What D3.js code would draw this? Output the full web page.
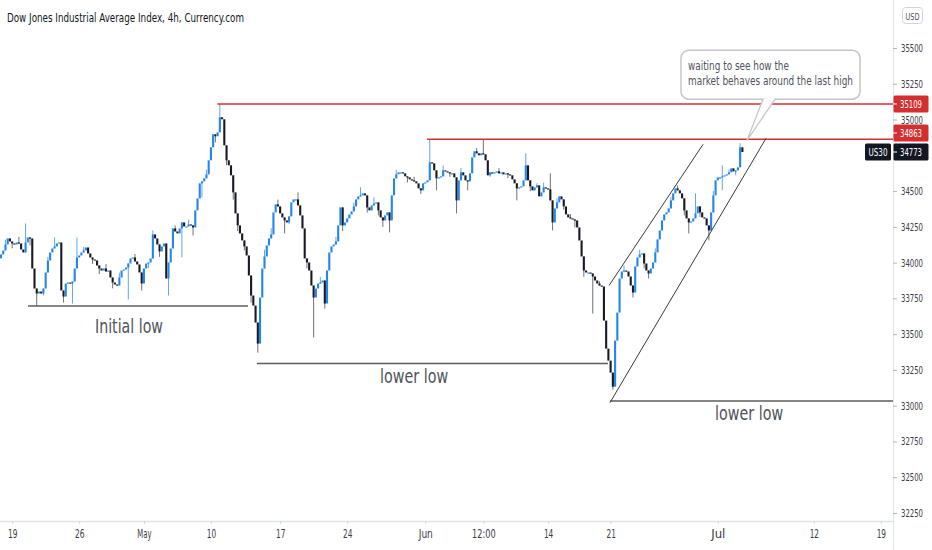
<!DOCTYPE html>
<html><head><meta charset="utf-8">
<script src="https://cdn.jsdelivr.net/npm/d3@7"></script>
<style>
html,body{margin:0;padding:0;background:#fff;}
svg{display:block;}
text{font-family:"Liberation Sans Narrow","DejaVu Sans Condensed","Roboto Condensed","Liberation Sans",sans-serif;}
</style></head><body>
<svg id="chart" width="932" height="550"></svg>
<script>
// ---------------- data ----------------
const title = "Dow Jones Industrial Average Index, 4h, Currency.com";
const symbol = "US30";
const currency = "USD";
const open0 = 34030;
const closes = [
34057,34085,34127,34169,34148,34134,34127,34141,34134,34092,
34071,34141,34176,34169,33959,33819,33784,33798,33784,33819,
33931,34015,34071,34099,34113,34134,34141,33805,33763,33854,
33861,33854,33868,33959,34036,34050,34071,34085,34106,34064,
34036,34022,34015,33980,33959,33945,33959,33938,33945,33896,
33861,33847,33840,33896,33945,33952,33966,33994,34029,34036,
34008,33987,33931,33854,33959,33994,34001,34029,34197,34169,
34127,34078,34113,34134,33889,34001,34099,34239,34218,34204,
34239,34281,34253,34253,34267,34260,34246,34365,34449,34554,
34568,34589,34617,34715,34806,34897,34883,34911,35016,35002,
34820,34715,34680,34610,34491,34344,34260,34204,34155,34113,
34050,33910,33770,33700,33581,33434,33756,33959,34043,34120,
34169,34197,34351,34407,34393,34344,34316,34295,34281,34323,
34421,34442,34442,34400,34330,34239,34029,34001,33945,33840,
33756,33819,33854,33861,33875,33714,33945,34071,34113,34127,
34148,34260,34386,34260,34281,34309,34337,34358,34393,34442,
34463,34470,34484,34470,34386,34365,34400,34414,34421,34365,
34316,34295,34330,34351,34295,34470,34589,34617,34631,34631,
34624,34603,34596,34582,34575,34568,34554,34519,34505,34554,
34561,34575,34701,34694,34645,34589,34596,34603,34645,34638,
34631,34624,34624,34596,34435,34575,34631,34610,34575,34568,
34624,34736,34778,34764,34750,34764,34757,34715,34610,34631,
34624,34631,34638,34624,34631,34617,34624,34617,34610,34582,
34554,34519,34526,34533,34575,34680,34575,34533,34505,34526,
34540,34463,34491,34526,34519,34512,34435,34281,34379,34421,
34463,34442,34393,34337,34316,34309,34302,34295,34246,34155,
34043,33945,33931,33931,33924,33903,33875,33854,33840,33833,
33595,33399,33315,33231,33133,33455,33651,33889,33938,33945,
33938,33903,33840,33791,33973,34036,34057,34064,33994,33945,
33924,33959,34001,34071,34162,34225,34295,34337,34351,34379,
34435,34484,34519,34505,34484,34449,34365,34309,34281,34288,
34309,34344,34393,34351,34316,34309,34260,34225,34351,34470,
34575,34596,34596,34603,34610,34617,34631,34659,34638,34645,
34666,34806,34773
];
// wicks: [candle, high, low]
const wicks = [
[2,34160,null],[5,null,34100],[8,34180,null],[11,34274,null],[13,null,34120],
[16,null,33697],[19,null,33770],[21,34040,null],[24,34176,null],[28,null,33721],
[32,null,33714],[34,34176,null],[37,34110,null],[41,null,33990],[44,null,33920],
[47,33990,null],[50,null,33820],[53,33930,null],[57,null,33742],[60,34060,null],
[63,null,33805],[66,null,33960],[68,34225,null],[71,null,34040],[75,null,33770],
[78,34260,null],[81,null,34036],[84,34300,null],[86,null,34190],[88,null,34400],
[90,null,34456],[92,34650,null],[96,null,34840],[98,35109,null],[101,null,34680],
[104,null,34440],[106,null,34220],[109,null,34085],[112,null,33720],[115,null,33371],
[118,34090,null],[121,34240,null],[124,34440,null],[127,null,34204],[129,null,34270],
[133,34491,null],[137,null,33960],[140,null,33476],[143,33900,null],[145,null,33679],
[150,34180,null],[153,null,34220],[158,34420,null],[161,34526,null],[164,null,34350],
[167,34456,null],[169,null,34330],[171,null,34250],[174,null,34211],[177,34650,null],
[182,null,34560],[185,34600,null],[188,null,34480],[192,34863,null],[195,null,34505],
[198,34680,null],[201,null,34600],[204,null,34344],[206,34660,null],[209,null,34505],
[213,34800,null],[216,34860,null],[219,null,34600],[223,34660,null],[227,null,34590],
[231,null,34435],[235,34764,null],[237,null,34500],[240,34554,null],[243,34560,null],
[246,34624,null],[247,null,34225],[249,34450,null],[252,null,34370],[255,34340,null],
[257,null,34246],[261,null,33900],[265,null,33644],[268,33870,null],[274,null,33112],
[276,null,33620],[279,33980,null],[283,null,33756],[286,34090,null],[288,null,33960],
[290,null,33889],[293,34100,null],[296,null,34260],[300,34460,null],[303,34540,null],
[306,null,34330],[308,null,34204],[311,34484,null],[313,null,34320],[317,null,34155],
[319,34500,null],[323,34680,34505],[326,34650,null],[329,null,34610],[331,34834,null]
];
const timeTicks = [[5,"19"],[35,"26"],[64,"May"],[94,"10"],[125,"17"],[155,"24"],[190,"Jun"],[216,"12:00"],[245,"14"],[273,"21"],[321,"Jul"],[364,"12"],[394,"19"]];
const priceTicks = [32250,32500,32750,33000,33250,33500,33750,34000,34250,34500,34750,35000,35250,35500];
const redLevels = [[96.9,35109],[190.8,34863]];
const lowLevels = [[12.1,110.6,33697],[114.6,271.8,33295],[272.7,null,33033]];
const channel = [[[272.3,33840],[314.4,34827]],[[272.7,33021],[342.6,34869]]];
const lowLabels = [[57.3,33511,"Initial low"],[185,33161,"lower low"],[335,32902,"lower low"]];
const note = ["waiting to see how the","market behaves around the last high"];
const noteTip = [334.1,34855];
const noteBox = [[304.5,35485],[384.7,35142]];
const lastPrice = 34773;

// ---------------- chart ----------------
const W = 932, H = 550, plotR = 893, plotB = 521;
const AXFONT = '"Liberation Sans Narrow","DejaVu Sans Condensed","Liberation Sans",sans-serif';
const svg = d3.select("#chart");
const xs = d3.scaleLinear().domain([-0.45, 399.45]).range([0, plotR]);
const ys = d3.scaleLinear().domain([32250, 35500]).range([513, 48]);

svg.append("rect").attr("width",W).attr("height",H).attr("fill","#fff");
svg.append("defs").append("clipPath").attr("id","plot")
  .append("rect").attr("x",0).attr("y",0).attr("width",plotR).attr("height",plotB);
const plot = svg.append("g").attr("clip-path","url(#plot)");

// candles
const wmap = new Map(wicks.map(w => [w[0], w]));
const candles = closes.map((c, i) => {
  const o = i === 0 ? open0 : closes[i-1];
  const w = wmap.get(i);
  const top = Math.max(o,c), bot = Math.min(o,c);
  const h = w && w[1] != null ? Math.max(w[1], top) : top;
  const l = w && w[2] != null ? Math.min(w[2], bot) : bot;
  return {i, o, c, h, l};
});
const UP = "#2286ee", DN = "#161a25";
const cg = plot.append("g");
cg.selectAll("line.wick").data(candles.filter(d => d.h > Math.max(d.o,d.c) || d.l < Math.min(d.o,d.c)))
  .join("line").attr("class","wick")
  .attr("x1", d => xs(d.i)).attr("x2", d => xs(d.i))
  .attr("y1", d => ys(d.h)).attr("y2", d => ys(d.l))
  .attr("stroke", d => d.c >= d.o ? "#5fa6ee" : "#6f727a").attr("stroke-width", 1);
cg.selectAll("rect.body").data(candles).join("rect").attr("class","body")
  .attr("x", d => xs(d.i) - 1.05).attr("width", 2.1)
  .attr("y", d => ys(Math.max(d.o,d.c)))
  .attr("height", d => Math.max(1.2, ys(Math.min(d.o,d.c)) - ys(Math.max(d.o,d.c))))
  .attr("fill", d => d.c >= d.o ? UP : DN);

// horizontal levels
const RED = "#d32f2f";
plot.selectAll("line.red").data(redLevels).join("line").attr("class","red")
  .attr("x1", d => xs(d[0])).attr("x2", plotR)
  .attr("y1", d => ys(d[1])).attr("y2", d => ys(d[1]))
  .attr("stroke", RED).attr("stroke-width", 1.5);
plot.selectAll("line.low").data(lowLevels).join("line").attr("class","low")
  .attr("x1", d => xs(d[0])).attr("x2", d => d[1] == null ? plotR : xs(d[1]))
  .attr("y1", d => ys(d[2])).attr("y2", d => ys(d[2]))
  .attr("stroke", "#5d5d5d").attr("stroke-width", 1.5);
plot.selectAll("line.chan").data(channel).join("line").attr("class","chan")
  .attr("x1", d => xs(d[0][0])).attr("y1", d => ys(d[0][1]))
  .attr("x2", d => xs(d[1][0])).attr("y2", d => ys(d[1][1]))
  .attr("stroke", "#3a3a3a").attr("stroke-width", 1);

plot.selectAll("text.lowlbl").data(lowLabels).join("text").attr("class","lowlbl")
  .attr("x", d => xs(d[0])).attr("y", d => ys(d[1]))
  .attr("text-anchor","middle").attr("font-size", 20).attr("fill","#50535a")
  .attr("textLength", 68).attr("lengthAdjust","spacingAndGlyphs")
  .text(d => d[2]);

// callout
const bx0 = xs(noteBox[0][0]), by0 = ys(noteBox[0][1]), bx1 = xs(noteBox[1][0]), by1 = ys(noteBox[1][1]);
const tx = xs(noteTip[0]), ty = ys(noteTip[1]);
const cal = svg.append("g");
cal.append("path").attr("d", `M${bx0+82},${by1} L${tx},${ty} L${bx0+94},${by1} Z`)
  .attr("fill","#fff").attr("stroke","#c4c6cc").attr("stroke-width",1.3);
cal.append("rect").attr("x",bx0).attr("y",by0).attr("width",bx1-bx0).attr("height",by1-by0)
  .attr("rx",8).attr("fill","#fff").attr("stroke","#c4c6cc").attr("stroke-width",1.5);
cal.append("line").attr("x1",bx0+82.8).attr("x2",bx0+93.2).attr("y1",by1).attr("y2",by1)
  .attr("stroke","#fff").attr("stroke-width",2);
cal.selectAll("text").data(note).join("text")
  .attr("x", bx0+7).attr("y", (d,i) => by0 + 20 + i*14.5)
  .attr("font-size", 12.5).attr("fill","#50535e")
  .attr("textLength", (d,i) => i === 0 ? 101 : 165).attr("lengthAdjust","spacingAndGlyphs")
  .text(d => d);

// axes frame
svg.append("line").attr("x1",plotR+0.5).attr("x2",plotR+0.5).attr("y1",0).attr("y2",H)
  .attr("stroke","#e0e3eb").attr("stroke-width",1);
svg.append("line").attr("x1",0).attr("x2",plotR).attr("y1",plotB+0.5).attr("y2",plotB+0.5)
  .attr("stroke","#e0e3eb").attr("stroke-width",1.5);

// price labels (with simple collision handling), computed first so hidden ticks can be skipped
const boxes = [
  {v: lastPrice, fill: "#131722"},
  {v: redLevels[1][1], fill: RED},
  {v: redLevels[0][1], fill: RED}
];
let prevY = null;
boxes.forEach(b => {
  let y = ys(b.v);
  if (prevY !== null && prevY - y < 19) y = prevY - 19;
  b.y = y; prevY = y;
});
const visibleTicks = priceTicks.filter(v => boxes.every(b => Math.abs(ys(v) - b.y) > 12));

// price axis
const yAxis = svg.append("g").attr("transform",`translate(${plotR},0)`)
  .call(d3.axisRight(ys).tickValues(visibleTicks).tickSize(4).tickPadding(4).tickFormat(d3.format("d")));
yAxis.select(".domain").remove();
yAxis.selectAll(".tick line").attr("stroke","#b2b5be");
yAxis.selectAll(".tick text").attr("fill","#3a3d45").attr("font-size",11)
  .attr("textLength",22).attr("lengthAdjust","spacingAndGlyphs")
  .style("font-family",AXFONT);

// time axis
const xAxis = svg.append("g").attr("transform",`translate(0,${plotB})`)
  .call(d3.axisBottom(xs).tickValues(timeTicks.map(t => t[0])).tickSize(3).tickPadding(6)
    .tickFormat((d,i) => timeTicks[i][1]));
xAxis.select(".domain").remove();
xAxis.selectAll(".tick line").attr("stroke","#d1d4dc");
xAxis.selectAll(".tick text").attr("fill","#3a3d45").attr("font-size",11.5)
  .attr("textLength", (d,i) => timeTicks[i][1].length * 4.7).attr("lengthAdjust","spacingAndGlyphs")
  .style("font-family",AXFONT);

const pl = svg.append("g");
boxes.forEach(b => {
  pl.append("rect").attr("x",plotR+0.5).attr("y",b.y-8.5).attr("width",35).attr("height",17)
    .attr("rx",1.5).attr("fill",b.fill);
  pl.append("line").attr("x1",plotR).attr("x2",plotR+4).attr("y1",b.y).attr("y2",b.y)
    .attr("stroke","#fff").attr("stroke-width",1);
  pl.append("text").attr("x",plotR+7).attr("y",b.y+4).attr("font-size",11).attr("fill","#fff")
    .attr("textLength",22).attr("lengthAdjust","spacingAndGlyphs").style("font-family",AXFONT).text(b.v);
});
const ly = ys(lastPrice);
pl.append("rect").attr("x",plotR-28).attr("y",ly-8.5).attr("width",26).attr("height",17)
  .attr("rx",1.5).attr("fill","#131722");
pl.append("text").attr("x",plotR-15).attr("y",ly+4).attr("text-anchor","middle")
  .attr("font-size",11).attr("fill","#fff").attr("textLength",19).attr("lengthAdjust","spacingAndGlyphs")
  .style("font-family",AXFONT).text(symbol);

// currency badge
svg.append("rect").attr("x",902.5).attr("y",7.5).attr("width",20).attr("height",16).attr("rx",3)
  .attr("fill","#fff").attr("stroke","#d1d4dc");
svg.append("text").attr("x",912.5).attr("y",19.5).attr("text-anchor","middle").attr("font-size",9.5)
  .attr("fill","#50535e").attr("textLength",14).attr("lengthAdjust","spacingAndGlyphs").text(currency);

// title
svg.append("text").attr("x",7).attr("y",22).attr("font-size",13).attr("fill","#131722")
  .attr("textLength",237).attr("lengthAdjust","spacingAndGlyphs").text(title);
</script>
</body></html>
